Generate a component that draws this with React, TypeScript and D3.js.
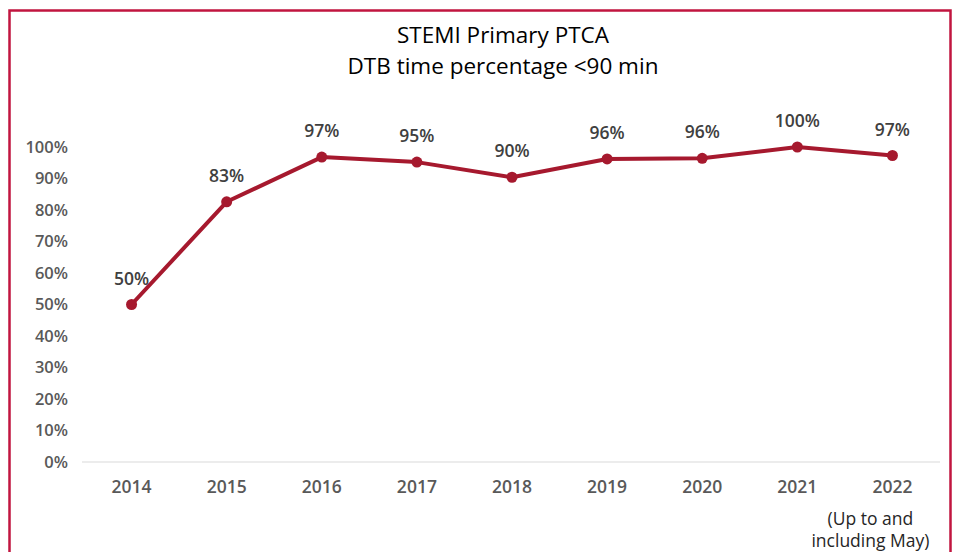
import { useEffect, useRef } from "react";
import * as d3 from "d3";

// Door-to-balloon time, share of patients under 90 min
const years = ["2014", "2015", "2016", "2017", "2018", "2019", "2020", "2021", "2022"];
const pct = [50, 82.6, 96.8, 95.2, 90.4, 96.2, 96.4, 100, 97.3];
const yTicks = [0, 10, 20, 30, 40, 50, 60, 70, 80, 90, 100];
const titleLines = ["STEMI Primary PTCA", "DTB time percentage <90 min"];
const footnote = ["(Up to and", "including May)"];

const W = 955, H = 552;
const FONT = "'Open Sans', 'Noto Sans', sans-serif";

export default function App() {
    const svgRef = useRef<SVGSVGElement>(null);

    useEffect(() => {
        const svg = d3.select(svgRef.current);
        svg.selectAll("*").remove();

        // frame
        svg.append("rect")
            .attr("x", 9.5).attr("y", 10.5)
            .attr("width", 941).attr("height", 600)
            .attr("fill", "#fff")
            .attr("stroke", "#c1153f").attr("stroke-width", 2.5);

        // title
        svg.append("g").selectAll("text")
            .data(titleLines)
            .enter().append("text")
            .attr("x", 503)
            .attr("y", (d, i) => 43 + i * 31)
            .attr("text-anchor", "middle")
            .attr("font-family", FONT)
            .attr("font-size", 22.5)
            .attr("fill", "#000")
            .text((d) => d);

        const x = d3.scaleBand().domain(years).range([84, 940]);
        const y = d3.scaleLinear().domain([0, 100]).range([462, 147]);

        // y axis (labels only)
        const yAxis = svg.append("g")
            .attr("transform", "translate(68,0)")
            .call(d3.axisLeft(y).tickValues(yTicks).tickSize(0).tickPadding(0).tickFormat((d) => `${d}%`));
        yAxis.select(".domain").remove();
        yAxis.selectAll("text")
            .attr("font-family", FONT).attr("font-size", 16.5).attr("font-weight", 600)
            .attr("fill", "#595959");

        // baseline
        svg.append("line")
            .attr("x1", 82).attr("x2", 940)
            .attr("y1", y(0)).attr("y2", y(0))
            .attr("stroke", "#d9d9d9").attr("stroke-width", 1);

        // x axis labels
        const xAxis = svg.append("g")
            .attr("transform", `translate(0,${y(0)})`)
            .call(d3.axisBottom(x).tickSize(0).tickPadding(19));
        xAxis.select(".domain").remove();
        xAxis.selectAll("text")
            .attr("font-family", FONT).attr("font-size", 17.5).attr("font-weight", 600)
            .attr("fill", "#595959");

        const cx = (i: number) => (x(years[i]) as number) + x.bandwidth() / 2;

        // footnote under last category
        svg.append("g").selectAll("text")
            .data(footnote)
            .enter().append("text")
            .attr("x", cx(years.length - 1) - 22)
            .attr("y", (d, i) => 525 + i * 22)
            .attr("text-anchor", "middle")
            .attr("font-family", FONT).attr("font-size", 17.5)
            .attr("fill", "#262626")
            .text((d) => d);

        const line = d3.line<number>()
            .x((d, i) => cx(i))
            .y((d) => y(d));

        svg.append("path")
            .datum(pct)
            .attr("d", line)
            .attr("fill", "none")
            .attr("stroke", "#a6192e")
            .attr("stroke-width", 4)
            .attr("stroke-linejoin", "round");

        svg.append("g").selectAll("circle")
            .data(pct)
            .enter().append("circle")
            .attr("cx", (d, i) => cx(i))
            .attr("cy", (d) => y(d))
            .attr("r", 5.5)
            .attr("fill", "#a6192e");

        svg.append("g").selectAll("text")
            .data(pct)
            .enter().append("text")
            .attr("x", (d, i) => cx(i))
            .attr("y", (d) => y(d) - 20)
            .attr("text-anchor", "middle")
            .attr("font-family", FONT).attr("font-size", 17.5).attr("font-weight", 600)
            .attr("fill", "#404040")
            .text((d) => `${Math.round(d)}%`);
    }, []);

    return (
        <svg
            ref={svgRef}
            width={W}
            height={H}
            style={{ position: "absolute", left: 0, top: 0, background: "#fff" }}
        />
    );
}
